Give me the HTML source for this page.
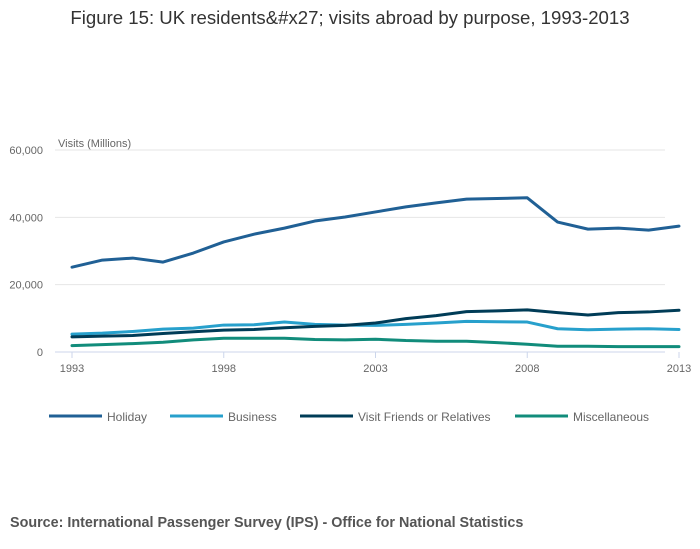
<!DOCTYPE html>
<html><head><meta charset="utf-8"><style>
body{margin:0;background:#fff;}
svg{display:block;font-family:"Liberation Sans",sans-serif;}
</style></head><body>
<svg id="chart" width="700" height="549">
<text x="350" y="24" text-anchor="middle" font-size="18.6" fill="#333">Figure 15: UK residents&amp;#x27; visits abroad by purpose, 1993-2013</text>
<text x="58" y="147" font-size="11" fill="#666">Visits (Millions)</text>
<g id="grid"></g><g id="xaxis"></g><g id="lines"></g><g id="legend"></g>
<text x="10" y="527" font-size="14.35" font-weight="bold" fill="#555">Source: International Passenger Survey (IPS) - Office for National Statistics</text>
</svg>
<script>
const years=[1993,1994,1995,1996,1997,1998,1999,2000,2001,2002,2003,2004,2005,2006,2007,2008,2009,2010,2011,2012,2013];
const holiday=[25200,27300,27900,26700,29400,32700,35000,36800,38900,40100,41600,43100,44300,45400,45600,45800,38600,36500,36800,36200,37400];
const business=[5300,5600,6100,6800,7100,8000,8100,8900,8200,8000,7900,8200,8600,9100,9000,8900,6900,6600,6800,6900,6700];
const vfr=[4500,4700,4900,5500,6000,6500,6700,7200,7600,7900,8600,9900,10800,12000,12200,12500,11700,11000,11700,11900,12400];
const misc=[1900,2200,2500,2900,3600,4100,4100,4100,3700,3600,3800,3400,3200,3200,2800,2300,1700,1700,1600,1600,1600];
const yTicks=[0,20000,40000,60000];
const xTicks=[1993,1998,2003,2008,2013];
const seriesNames=["Holiday","Business","Visit Friends or Relatives","Miscellaneous"];
const NS="http://www.w3.org/2000/svg";
const xs=y=>72+(y-1993)*(679-72)/20;
const ys=v=>352-v*(202/60000);
function mk(t,a,p){const e=document.createElementNS(NS,t);for(const k in a)e.setAttribute(k,a[k]);p.appendChild(e);return e;}
const grid=document.getElementById('grid');
yTicks.forEach(v=>{
  const l=mk('line',{x1:55,x2:665,y1:ys(v),y2:ys(v),stroke:v===0?'#ccd6eb':'#e6e6e6','stroke-width':1},grid);
  
  
  const t=mk('text',{x:43,y:ys(v)+4,'text-anchor':'end','font-size':11,fill:'#666'},grid);
  t.textContent=v.toLocaleString('en-US');
  
  
});
const xa=document.getElementById('xaxis');
xTicks.forEach(y=>{
  const l=mk('line',{x1:xs(y),x2:xs(y),y1:352,y2:358,stroke:'#ccd6eb'},xa);
  
  
  const t=mk('text',{x:xs(y),y:372,'text-anchor':'middle','font-size':11,fill:'#666'},xa);
  t.textContent=y;
  
  
});
const data=[holiday,business,vfr,misc];
const colors=['#206095','#27a0cc','#003c57','#118c7b'];
const lg=document.getElementById('lines');
data.forEach((s,i)=>{
  const p=mk('polyline',{points:s.map((v,j)=>xs(years[j])+','+ys(v)).join(' '),fill:'none',stroke:colors[i],'stroke-width':3,'stroke-linejoin':'round','stroke-linecap':'round'},lg);
  
  
});
const legend=document.getElementById('legend');
const lx=[49,170,300,515];
seriesNames.forEach((n,i)=>{
  const l=mk('line',{x1:lx[i],x2:lx[i]+53,y1:416,y2:416,stroke:colors[i],'stroke-width':3},legend);
  
  
  const t=mk('text',{x:lx[i]+58,y:421,'font-size':12,fill:'#666'},legend);
  t.textContent=n;
  
  
});
</script>
</body></html>
